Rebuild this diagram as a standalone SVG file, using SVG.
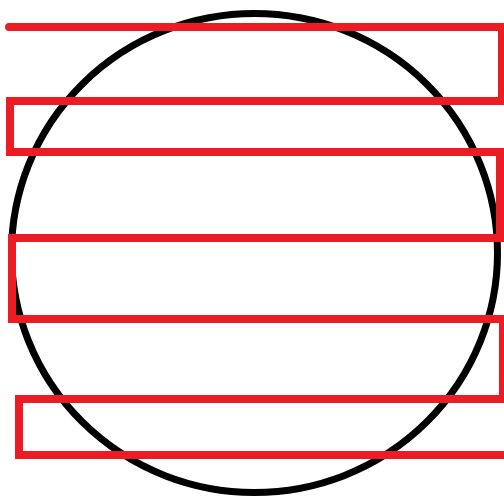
<svg xmlns="http://www.w3.org/2000/svg" width="504" height="497" viewBox="0 0 504 497">
  <style>
    .circle { fill: none; stroke: #000000; stroke-width: 7; }
    .zigzag { fill: none; stroke: #ED1C24; stroke-width: 8; stroke-linecap: round; stroke-linejoin: miter; }
  </style>
  <rect width="504" height="497" fill="#ffffff"/>
  <g id="circle">
    <ellipse class="circle" cx="254.5" cy="253" rx="243" ry="239.5"/>
  </g>
  <g id="connectors">
    <path class="zigzag" d="M9,27 H502 V101 H10 V152 H500 V238 H12 V319 H503 V399 H19 V455 H512"/>
  </g>
</svg>
